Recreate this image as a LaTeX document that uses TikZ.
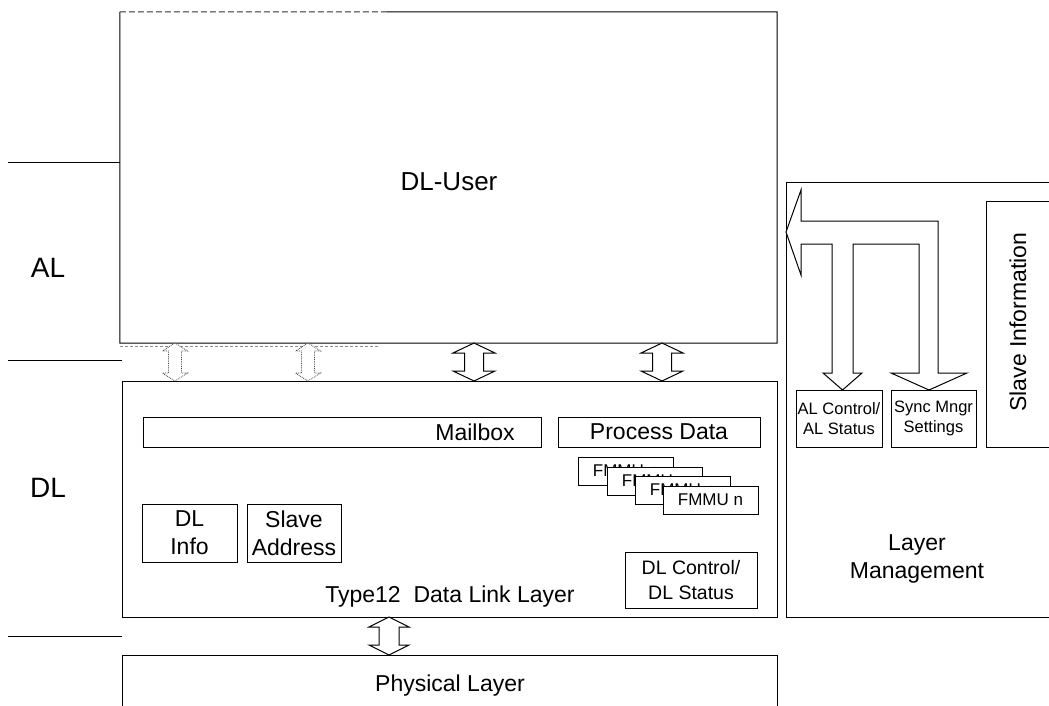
\documentclass[tikz,border=0pt]{standalone}
\usepackage{fontspec}
\setmainfont{Liberation Sans}
\newcommand{\udarrow}[7]{% style, cx, ytop, ybot, headhalf, shafthalf, headlen
  \draw[#1] (#2,#3) -- ({#2+#5},{#3+#7}) -- ({#2+#6},{#3+#7}) -- ({#2+#6},{#4-#7})
    -- ({#2+#5},{#4-#7}) -- (#2,#4) -- ({#2-#5},{#4-#7}) -- ({#2-#6},{#4-#7})
    -- ({#2-#6},{#3+#7}) -- ({#2-#5},{#3+#7}) -- cycle;}
\begin{document}
\begin{tikzpicture}[x=1pt,y=-1pt,
  box/.style={draw, line width=1pt, fill=white, inner sep=0pt, align=center},
  txt/.style={inner sep=0pt, align=center},
  big/.style={font=\fontsize{23}{28}\selectfont},
  huge/.style={font=\fontsize{28}{32}\selectfont},
  mid/.style={font=\fontsize{19.5}{25}\selectfont},
  small/.style={font=\fontsize{16.5}{20}\selectfont},
  fmmu/.style={font=\fontsize{17}{19}\selectfont},
  edge/.style={draw, line width=1pt},
  sepline/.style={draw, line width=0.9pt},
  solidarrow/.style={draw, line width=1pt, fill=white, line join=miter},
  dotarrow/.style={draw=black!75, densely dotted, line width=0.8pt, fill=white}]
\useasboundingbox (0,0) rectangle (1049,706);

% left separators and layer labels
\coordinate (s1a) at (8,162);  \coordinate (s1b) at (120,162);
\coordinate (s2a) at (8,360);  \coordinate (s2b) at (122,360);
\coordinate (s3a) at (8,636);  \coordinate (s3b) at (122,636);
\draw[sepline] (s1a) -- (s1b);
\draw[sepline] (s2a) -- (s2b);
\draw[sepline] (s3a) -- (s3b);
\node[txt, huge] (al) at (48,268) {AL};
\node[txt, huge] (dl) at (48,488) {DL};

% DL-User
\node[minimum width=657pt, minimum height=331pt, inner sep=0pt] (dluser) at (448.5,177.5) {};
\coordinate (dashend) at (387,12);
\draw[edge] (dashend) -- (dluser.north east) -- (dluser.south east) -- (dluser.south west) -- (dluser.north west);
\draw[line width=1pt, black!80, dash pattern=on 6pt off 3pt] (dluser.north west) -- (dashend);
\coordinate (ghosta) at (120,346); \coordinate (ghostb) at (378,346);
\draw[black!45, line width=0.6pt, dash pattern=on 3pt off 2pt] (ghosta) -- (ghostb);
\node[txt, font=\fontsize{26}{30}\selectfont] (dlusertxt) at (449,182) {DL-User};

% DL box
\node[box, minimum width=655pt, minimum height=236pt] (dlbox) at (449.5,499) {};
\node[txt, big] (dltitle) at (450,597) {Type12\ \ Data Link Layer};
\node[box, minimum width=398pt, minimum height=30pt] (mailbox) at (342,432) {};
\node[txt, big] (mailtxt) at (475,432) {Mailbox};
\node[box, big, minimum width=202pt, minimum height=30pt] (pdata) at (659,432) {Process Data};
\node[box, fmmu, minimum width=95pt, minimum height=28pt] (f1) at (625.5,471) {FMMU n};
\node[box, fmmu, minimum width=95pt, minimum height=28pt] (f2) at (654.5,481) {FMMU n};
\node[box, fmmu, minimum width=95pt, minimum height=28pt] (f3) at (682.5,490) {FMMU n};
\node[box, fmmu, minimum width=95pt, minimum height=28pt] (f4) at (710.5,500) {FMMU n};
\node[box, big, minimum width=95pt, minimum height=58pt] (dlinfo) at (189.5,533) {DL\\Info};
\node[box, big, minimum width=94pt, minimum height=58pt] (saddr) at (294,533) {Slave\\Address};
\node[box, mid, minimum width=132pt, minimum height=56pt] (dlctrl) at (691,580) {DL Control/\\DL Status};

% Physical layer
\node[box, minimum width=655pt, minimum height=66pt] (phy) at (449.5,688) {};
\node[txt, big] (phytxt) at (450,686) {Physical Layer};

% Layer management
\node[box, minimum width=266pt, minimum height=435pt] (lm) at (919,399.5) {};
\node[txt, big] (lmtxt) at (917,559) {Layer\\Management};
\node[box, minimum width=66pt, minimum height=246pt] (slinfo) at (1019,324) {};
\node[txt, big, rotate=90] (slinfotxt) at (1018,322) {Slave Information};
\node[box, small, minimum width=86pt, minimum height=57pt] (alctrl) at (839,418.5) {AL Control/\\AL Status};
\node[box, small, minimum width=85pt, minimum height=57pt] (sync) at (933.5,418.5) {Sync Mngr\\Settings};

% T-shaped block arrow
\draw[solidarrow] (786,232) -- (801,190) -- (801,221) -- (938,221) -- (938,373)
  -- (967,373) -- (929,390) -- (891,373) -- (919,373) -- (919,244) -- (853,244)
  -- (853,373) -- (862,373) -- (842.5,390) -- (823,373) -- (832,373) -- (832,244)
  -- (801,244) -- (801,275) -- cycle;

% double arrows between DL-User and DL
\udarrow{dotarrow}{175}{343}{381}{12.5}{6.5}{8}
\udarrow{dotarrow}{308}{343}{381}{12.5}{6.5}{8}
\udarrow{solidarrow}{474}{343}{381}{21}{9.5}{10}
\udarrow{solidarrow}{662}{343}{381}{21}{9.5}{10}
% DL to physical
\udarrow{solidarrow}{389}{617}{655}{20}{10}{10}
\end{tikzpicture}
\end{document}
